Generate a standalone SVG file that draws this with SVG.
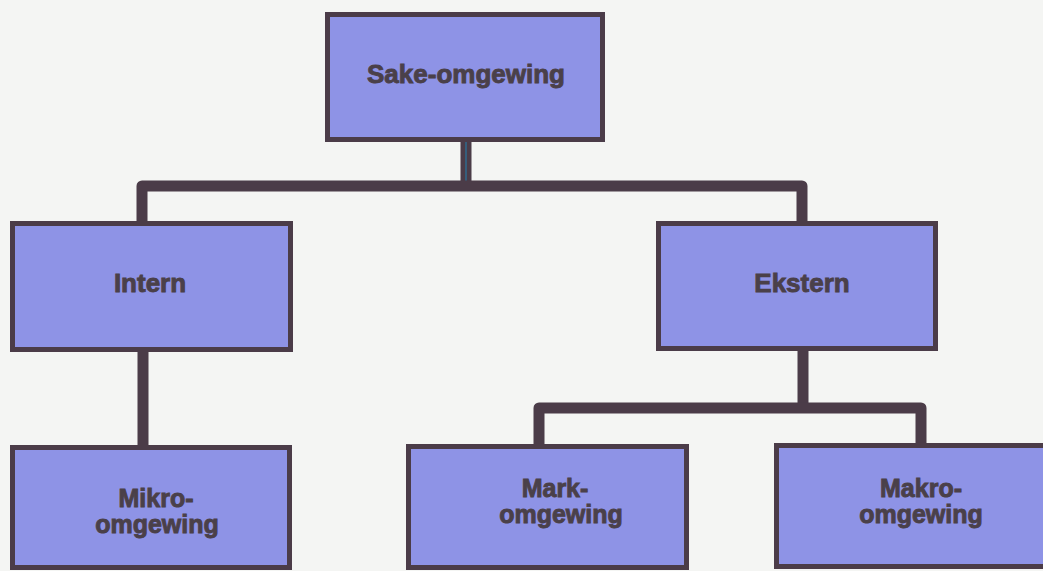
<svg xmlns="http://www.w3.org/2000/svg" width="1043" height="571" viewBox="0 0 1043 571">
  <style>
    .box { fill: #8e93e6; stroke: #4b3c48; stroke-width: 5; }
    .wire { fill: none; stroke: #4b3c48; stroke-width: 11; stroke-linejoin: round; stroke-linecap: butt; }
    .lbl { font-family: "Liberation Sans", Arial, sans-serif; font-weight: bold; font-size: 26px; fill: #4a4049; stroke: #4a4049; stroke-width: 0.9; text-anchor: middle; }
    .two { font-size: 25px; }
  </style>
  <rect width="1043" height="571" fill="#f4f5f3"/>

  <!-- connectors -->
  <g id="connectors">
    <path class="wire" d="M466,142 V186"/>
    <path d="M466,142 V186" stroke="#2f6a8c" stroke-width="1.5" fill="none"/>
    <path class="wire" d="M142,223 V186 H802 V223"/>
    <path class="wire" d="M143,352 V447"/>
    <path class="wire" d="M803,351 V408"/>
    <path class="wire" d="M539,446 V408 H921 V445"/>
  </g>

  <g id="sake-omgewing">
    <rect class="box" x="327.5" y="14.5" width="275" height="125"/>
    <text class="lbl" x="466" y="83">Sake-omgewing</text>
  </g>

  <g id="intern">
    <rect class="box" x="12.5" y="223.5" width="278" height="126"/>
    <text class="lbl" x="150" y="292">Intern</text>
  </g>

  <g id="ekstern">
    <rect class="box" x="658.5" y="223.5" width="277" height="125"/>
    <text class="lbl" x="802" y="292">Ekstern</text>
  </g>

  <!-- two-line labels -->
  <g id="mikro-omgewing">
    <rect class="box" x="12.5" y="447.5" width="277" height="120"/>
    <text class="lbl two" x="156" y="507">Mikro-</text>
    <text class="lbl two" x="157" y="533">omgewing</text>
  </g>

  <g id="mark-omgewing">
    <rect class="box" x="408.5" y="446.5" width="278" height="121"/>
    <text class="lbl two" x="555" y="497">Mark-</text>
    <text class="lbl two" x="561" y="523">omgewing</text>
  </g>

  <g id="makro-omgewing">
    <rect class="box" x="776.5" y="445.5" width="279" height="121"/>
    <text class="lbl two" x="921" y="497">Makro-</text>
    <text class="lbl two" x="921" y="523">omgewing</text>
  </g>
</svg>
